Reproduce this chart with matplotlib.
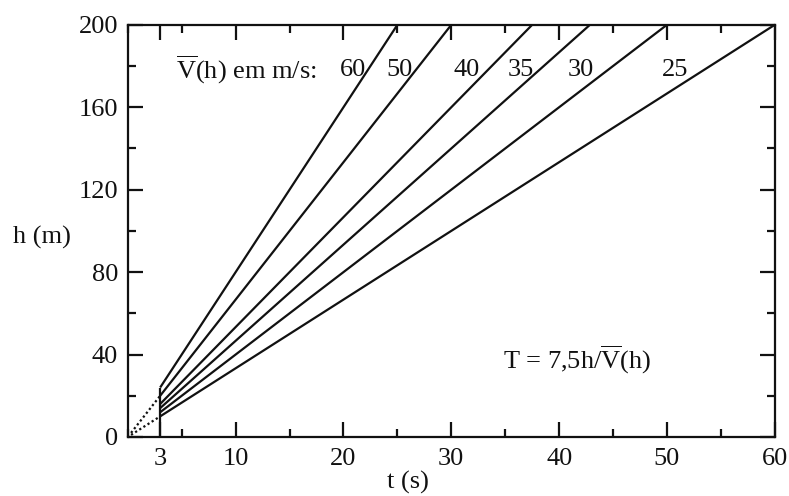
import matplotlib
matplotlib.use('Agg')
import matplotlib.pyplot as plt
from matplotlib.ticker import MultipleLocator

# Travel time T = 7,5 h / V(h) for several mean velocities
velocities = [60, 50, 40, 35, 30, 25]          # m/s
dotted_velocities = [50, 25]                     # extrapolated below t = 3 s
t_start = 3                                      # s
h_max = 200                                      # m
label_x = [19.7, 24.0, 30.2, 35.2, 40.8, 49.5]   # where the velocity labels sit
label_h = 178

x_ticks = [3, 10, 20, 30, 40, 50, 60]
y_ticks = [0, 40, 80, 120, 160, 200]

plt.rcParams['font.family'] = ['Liberation Serif', 'DejaVu Serif']
plt.rcParams['mathtext.fontset'] = 'custom'
plt.rcParams['mathtext.rm'] = 'Liberation Serif'
plt.rcParams['font.size'] = 19

ink = '#111111'

fig = plt.figure(figsize=(7.89, 4.96), dpi=100)
ax = fig.add_axes([0.162, 0.119, 0.82, 0.831])


def h_of_t(t, v):
    return v * t / 7.5


for v in velocities:
    t_end = 7.5 * h_max / v
    ax.plot([t_start, t_end], [h_of_t(t_start, v), h_of_t(t_end, v)],
            color=ink, lw=1.6, solid_capstyle='butt')

for v in dotted_velocities:
    ax.plot([0.3, t_start], [h_of_t(0.3, v), h_of_t(t_start, v)],
            color=ink, lw=1.6, linestyle=(0, (1, 1.2)))

# vertical start line at t = 3 s
ax.plot([t_start, t_start], [0, h_of_t(t_start, max(velocities))],
        color=ink, lw=1.6, solid_capstyle='butt')

ax.set_xlim(0, 60)
ax.set_ylim(0, 200)
ax.set_xticks(x_ticks)
ax.set_yticks(y_ticks)
ax.xaxis.set_minor_locator(MultipleLocator(5))
ax.yaxis.set_minor_locator(MultipleLocator(20))
ax.tick_params(which='both', direction='in', top=True, right=True,
               width=1.6, color=ink, labelcolor=ink)
ax.tick_params(which='major', length=11)
ax.tick_params(axis='x', which='major', pad=8)
ax.tick_params(axis='y', which='major', pad=7)
ax.tick_params(which='minor', length=6)
for s in ax.spines.values():
    s.set_linewidth(1.6)
    s.set_color(ink)

ax.set_xlabel('t (s)', color=ink, va='top', ha='center')
ax.xaxis.set_label_coords(0.433, -0.083)
ax.set_ylabel('h (m)', rotation=0, color=ink, va='center', ha='center')
ax.yaxis.set_label_coords(-0.133, 0.485)

ax.text(4.5, label_h, r'$\overline{\mathrm{V}}$(h) em m/s:', va='center',
        color=ink)
for v, x in zip(velocities, label_x):
    ax.text(x, label_h, str(v), va='center', color=ink)

ax.text(34.8, 37.4, r'T = 7,5h/$\overline{\mathrm{V}}$(h)', va='center',
        color=ink)

fig.savefig('out.png', dpi=100)
